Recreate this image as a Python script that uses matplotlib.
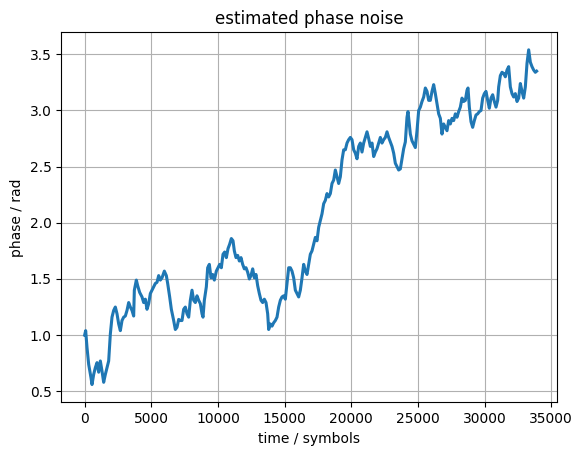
import matplotlib
matplotlib.use("Agg")
import matplotlib.pyplot as plt

time_symbols = [
    0, 78, 178, 303, 478, 553, 678, 803, 928, 1053, 1178, 1303, 1428, 1553, 1678, 1803, 1928,
    2053, 2178, 2303, 2428, 2553, 2678, 2803, 2928, 3053, 3178, 3303, 3428, 3553, 3678, 3728,
    3878, 3978, 4128, 4303, 4428, 4553, 4678, 4803, 4928, 5053, 5178, 5303, 5428, 5553, 5678,
    5803, 5978, 6128, 6228, 6378, 6503, 6678, 6803, 6928, 7053,
    7178, 7303, 7428, 7553, 7678, 7803, 7928, 8053, 8178, 8303, 8428, 8553, 8678, 8803, 8878,
    8978, 9128, 9228, 9353, 9478, 9603, 9728, 9878, 10003, 10128, 10253, 10378, 10503, 10628,
    10753, 10878, 11003, 11128, 11228, 11353, 11478, 11603, 11728, 11853, 11978, 12103, 12228,
    12353, 12478, 12603, 12728, 12853, 12978, 13103, 13228, 13353, 13478, 13603, 13728, 13803,
    13928, 14053, 14178, 14303, 14428, 14553, 14678, 14803, 14928, 15053, 15178, 15303,
    15428, 15553, 15678, 15803, 15928, 16053, 16178, 16303, 16428, 16553, 16678, 16803, 16928,
    17053, 17178, 17303, 17428, 17553, 17678, 17803, 17928, 18053, 18178, 18303, 18428, 18553,
    18678, 18803, 18928, 19053, 19178, 19303, 19428, 19553, 19678, 19803, 19928, 20053, 20178,
    20303, 20428, 20553, 20678, 20803, 20928, 21053, 21178, 21303, 21428, 21553, 21678, 21803,
    21928, 22053, 22178, 22303, 22428, 22553, 22678, 22803, 22928, 23053, 23178, 23303, 23428,
    23553, 23678, 23803, 23928, 24053, 24178, 24253, 24378,
    24428, 24553, 24678, 24803, 24928, 25053, 25178, 25303, 25428, 25553, 25678, 25803, 25928,
    26053, 26178, 26303, 26428, 26553, 26678, 26803, 26928, 27053, 27178, 27303, 27428, 27553,
    27678, 27803, 27928, 28053, 28178, 28303, 28428, 28553, 28678, 28753, 28853, 28978, 29103,
    29228, 29353, 29478, 29603, 29728, 29853, 29978, 30103, 30228, 30353, 30478, 30603, 30728,
    30853, 30978, 31053, 31178, 31303, 31428, 31553, 31678, 31803, 31928, 32053, 32178, 32303,
    32428, 32553, 32678, 32803, 32928, 33053, 33178, 33303, 33428, 33553, 33678, 33803, 33900,
]

phase_rad = [
    1.00, 1.04, 0.89, 0.74, 0.62, 0.56, 0.65, 0.71, 0.755, 0.67, 0.77, 0.68, 0.58, 0.65, 0.71, 0.77, 1.01,
    1.16, 1.22, 1.25, 1.19, 1.10, 1.04, 1.13, 1.16, 1.17, 1.22, 1.29, 1.25, 1.22, 1.17, 1.40,
    1.49, 1.44, 1.38, 1.34, 1.29, 1.32, 1.23, 1.28, 1.37, 1.40, 1.43, 1.46, 1.47, 1.53, 1.49,
    1.51, 1.57, 1.53, 1.46, 1.34, 1.23, 1.13, 1.05, 1.07, 1.14,
    1.13, 1.13, 1.23, 1.25, 1.19, 1.16, 1.31, 1.40, 1.31, 1.29, 1.35, 1.31, 1.28, 1.19, 1.16,
    1.31, 1.43, 1.60, 1.63, 1.51, 1.54, 1.49, 1.57, 1.60, 1.63, 1.60, 1.72, 1.74, 1.69,
    1.77, 1.81, 1.86, 1.84, 1.75, 1.69, 1.71, 1.66, 1.69, 1.63, 1.59, 1.60, 1.56,
    1.50, 1.53, 1.59, 1.51, 1.54, 1.44, 1.37, 1.31, 1.29, 1.32, 1.29, 1.19, 1.05,
    1.10, 1.08, 1.11, 1.13, 1.16, 1.25, 1.31, 1.34, 1.35, 1.32, 1.46, 1.60,
    1.60, 1.57, 1.51, 1.40, 1.37, 1.34, 1.40, 1.51, 1.63, 1.57, 1.54, 1.63, 1.72,
    1.75, 1.81, 1.87, 1.84, 1.96, 2.02, 2.08, 2.17, 2.20, 2.26, 2.23, 2.26, 2.35,
    2.38, 2.47, 2.41, 2.35, 2.41, 2.56, 2.65, 2.65, 2.71, 2.74, 2.76, 2.74, 2.65,
    2.62, 2.57, 2.68, 2.71, 2.63, 2.71, 2.76, 2.81, 2.75, 2.68, 2.71, 2.59, 2.63,
    2.66, 2.71, 2.76, 2.71, 2.74, 2.76, 2.81, 2.76, 2.72, 2.68, 2.62, 2.53, 2.50,
    2.47, 2.48, 2.57, 2.66, 2.72, 2.94, 2.99, 2.85,
    2.79, 2.73, 2.70, 2.67, 2.82, 3.00, 3.03, 3.08, 3.12, 3.20, 3.17, 3.09, 3.09,
    3.17, 3.23, 3.15, 3.06, 2.97, 2.93, 2.79, 2.88, 2.85, 2.82, 2.91, 2.88, 2.93,
    2.91, 2.97, 2.94, 2.99, 3.03, 3.11, 3.08, 3.09, 3.18, 3.20, 3.03, 2.90, 2.85,
    2.91, 2.96, 2.97, 2.99, 3.00, 3.11, 3.15, 3.17, 3.09, 3.02, 3.11, 3.14, 3.08,
    3.03, 3.09, 3.21, 3.31, 3.34, 3.33, 3.30, 3.36, 3.39, 3.21, 3.15, 3.12, 3.15,
    3.08, 3.11, 3.24, 3.17, 3.11, 3.21, 3.42, 3.54, 3.43, 3.39, 3.36, 3.34, 3.35,
]

title = "estimated phase noise"
x_label = "time / symbols"
y_label = "phase / rad"

fig = plt.figure(figsize=(5.81, 4.55), dpi=100)
ax = fig.add_axes([61.3 / 581, (455 - 402.3) / 455, 496 / 581, 370 / 455])
ax.plot(time_symbols, phase_rad, color="#1f77b4", linewidth=2.2)
ax.set_title(title)
ax.set_xlabel(x_label)
ax.set_ylabel(y_label)
ax.set_xticks([0, 5000, 10000, 15000, 20000, 25000, 30000, 35000])
ax.set_xlim(-1750, 35450)
ax.set_ylim(0.402, 3.696)
ax.grid(True)
fig.savefig("out.png", dpi=100)
